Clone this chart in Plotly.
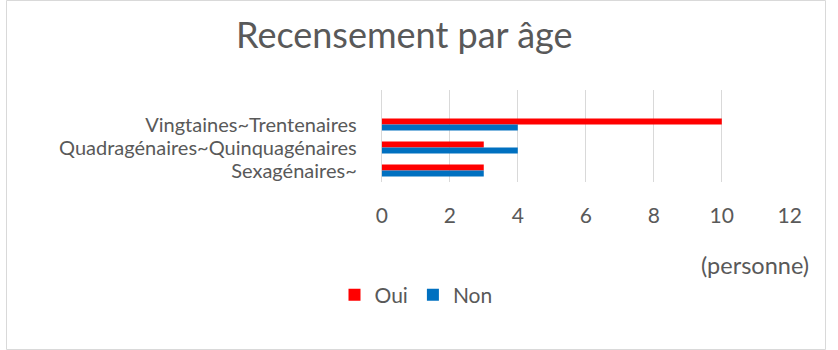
import plotly.graph_objects as go

# Age groups (top to bottom) and answer counts per group
categories = ["Vingtaines~Trentenaires", "Quadragénaires~Quinquagénaires", "Sexagénaires~"]
oui = [10, 3, 3]
non = [4, 4, 3]
x_ticks = [0, 2, 4, 6, 8, 10, 12]

W, H = 838, 350
FONT = "Lato"
GREY = "#595959"
GRID = "#d9d9d9"

fig = go.Figure()
fig.add_trace(go.Bar(name="Oui", y=categories, x=oui, orientation="h",
                     marker=dict(color="#FF0000", line=dict(width=0))))
fig.add_trace(go.Bar(name="Non", y=categories, x=non, orientation="h",
                     marker=dict(color="#0070C0", line=dict(width=0))))

# plot area in pixels
px_left, px_right, px_top, px_bottom = 384, 801, 90, 182

fig.update_layout(
    width=W, height=H,
    margin=dict(l=0, r=0, t=0, b=0),
    paper_bgcolor="white", plot_bgcolor="white",
    barmode="group", bargap=0.48, bargroupgap=0,
    font=dict(family=FONT, color=GREY, size=21),
    showlegend=True,
    legend=dict(orientation="h", x=0.5, xanchor="center",
                y=(H - 295) / H, yanchor="middle",
                font=dict(family=FONT, size=21, color=GREY),
                itemwidth=30, bgcolor="rgba(0,0,0,0)"),
    xaxis=dict(domain=[px_left / W, px_right / W], range=[0, 12],
               tickmode="array", tickvals=x_ticks,
               showgrid=True, gridcolor=GRID, gridwidth=1,
               zeroline=True, zerolinecolor=GRID, zerolinewidth=1,
               showline=False, ticks="", ticklabelstandoff=19,
               tickfont=dict(family=FONT, size=21, color=GREY)),
    yaxis=dict(domain=[(H - px_bottom) / H, (H - px_top) / H],
               type="category", range=[2.5, -1.5],
               tickmode="array", tickvals=categories, ticktext=categories,
               showgrid=False, zeroline=False, showline=False, ticks="",
               ticklabelstandoff=24,
               tickfont=dict(family=FONT, size=20, color=GREY)),
    annotations=[
        dict(text="Recensement par âge", x=407 / W, y=(H - 34) / H,
             xref="paper", yref="paper", xanchor="center", yanchor="middle",
             showarrow=False, font=dict(family=FONT, size=36, color=GREY)),
        dict(text="(personne)", x=823 / W, y=(H - 265) / H,
             xref="paper", yref="paper", xanchor="right", yanchor="middle",
             showarrow=False, font=dict(family=FONT, size=23.5, color=GREY)),
    ],
    shapes=[dict(type="rect", xref="paper", yref="paper",
                 x0=0.5 / W, x1=1 - 0.5 / W, y0=0.5 / H, y1=1 - 0.5 / H,
                 line=dict(color=GRID, width=1), layer="below")],
)

fig.write_html("out.html")
